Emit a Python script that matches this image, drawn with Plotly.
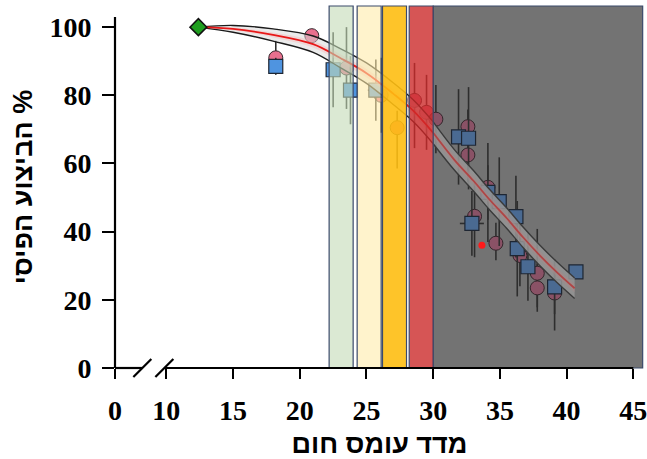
import plotly.graph_objects as go

# ---------------- data ----------------
x_tick_vals = [6.15, 10, 15, 20, 25, 30, 35, 40, 45]   # 6.15 carries the "0" label across the axis break
x_tick_text = ["0", "10", "15", "20", "25", "30", "35", "40", "45"]
y_tick_vals = [0, 20, 40, 60, 80, 100]

zone_x0 = [22.2, 24.3, 26.2, 28.2, 30.0]
zone_x1 = [24.0, 26.1, 28.0, 30.0, 45.7]

start_x = [12.4]
start_y = [100]

circ_x = [18.2, 20.9, 23.5, 26.1, 27.3, 28.6, 29.5, 30.2, 32.6, 32.6, 33.1, 34.1, 34.7, 36.5, 37.8, 37.8, 39.1]
circ_y = [91, 97.5, 88, 80, 70.5, 78.5, 75, 73, 70.8, 62.5, 44.5, 53, 36.6, 33, 27.8, 23.5, 22]
circ_eplus = [5, 2, 12, 11, 5, 11, 11, 10, 5, 8, 10, 13, 6, 9, 13, 7, 6]
circ_eminus = [2, 2, 12, 11, 12, 14, 11, 10, 5, 8, 12, 16, 5, 9, 10, 7, 11]
circ_xerr = [0, 0, 0, 0, 0, 0, 0.5, 0, 0, 0, 0, 0, 0, 0, 0, 0, 0]

sq_x = [18.2, 22.5, 23.8, 25.7, 31.9, 32.65, 32.9, 34.1, 34.95, 36.2, 36.3, 37.1, 39.1, 40.7]
sq_y = [88.5, 87.5, 81.5, 81.5, 67.8, 67.4, 42.4, 51.5, 48.8, 44.4, 35, 29.7, 23.8, 28.2]
sq_err = [2.5, 11, 10, 9, 14, 15, 9.5, 8, 13, 12, 14, 10, 8, 0]
sq_xerr = [0, 0, 0, 0.6, 0, 0, 0.9, 0, 0, 0, 0, 0, 0, 0]

dot_x = [33.65]
dot_y = [36]

fit_x = [12.4, 15, 18, 21, 23, 25, 27, 28.5, 30, 31.6, 33, 34.2, 35.5, 36.7, 38, 39.3, 40.6]
fit_y = [100, 99.5, 97.7, 95, 91, 86.5, 80.5, 75.5, 69, 61, 55, 49.5, 44, 38.5, 33, 28, 23.4]
fit_hw = [0, 1.0, 1.8, 2.4, 2.8, 3.0, 3.2, 3.2, 3.2, 3.0, 3.0, 3.0, 3.0, 3.0, 3.0, 3.0, 3.0]

# ---------------- figure ----------------
fig = go.Figure()
gray_start = zone_x0[-1]

def pick(xs, bright, muted):
    return [muted if x >= gray_start else bright for x in xs]

fig.add_trace(go.Scatter(
    x=circ_x, y=circ_y, mode="markers",
    marker=dict(symbol="circle", size=14, color=pick(circ_x, "#e8708e", "#8a5266"),
                line=dict(color="#33262b", width=1)),
    error_y=dict(type="data", symmetric=False, array=circ_eplus, arrayminus=circ_eminus,
                 color="#2e2e2e", thickness=1.6, width=0),
    error_x=dict(type="data", array=circ_xerr, color="#2e2e2e", thickness=1.6, width=0),
    hoverinfo="skip"))

fig.add_trace(go.Scatter(
    x=sq_x, y=sq_y, mode="markers",
    marker=dict(symbol="square", size=14, color=pick(sq_x, "#4f94e0", "#4a6a92"),
                line=dict(color="#1e2633", width=1.2)),
    error_y=dict(type="data", array=sq_err, color="#2e2e2e", thickness=1.6, width=0),
    error_x=dict(type="data", array=sq_xerr, color="#2e2e2e", thickness=1.6, width=0),
    hoverinfo="skip"))

fig.add_trace(go.Scatter(
    x=dot_x, y=dot_y, mode="markers",
    marker=dict(symbol="circle", size=7, color="#ff1a1a"), hoverinfo="skip"))


def add_fit(idx, edge, fill_outer, fill_inner, line_col):
    xs = [fit_x[i] for i in idx]
    ys = [fit_y[i] for i in idx]
    hw = [fit_hw[i] for i in idx]
    up = [y + h for y, h in zip(ys, hw)]
    lo = [y - h for y, h in zip(ys, hw)]
    iu = [y + 0.4 * h for y, h in zip(ys, hw)]
    il = [y - 0.4 * h for y, h in zip(ys, hw)]
    fig.add_trace(go.Scatter(x=xs, y=up, mode="lines", line=dict(color=edge, width=1.4, shape="spline"),
                             hoverinfo="skip"))
    fig.add_trace(go.Scatter(x=xs, y=lo, mode="lines", line=dict(color=edge, width=1.4, shape="spline"),
                             fill="tonexty", fillcolor=fill_outer, hoverinfo="skip"))
    fig.add_trace(go.Scatter(x=xs, y=iu, mode="lines", line=dict(width=0, shape="spline"),
                             hoverinfo="skip"))
    fig.add_trace(go.Scatter(x=xs, y=il, mode="lines", line=dict(width=0, shape="spline"),
                             fill="tonexty", fillcolor=fill_inner, hoverinfo="skip"))
    fig.add_trace(go.Scatter(x=xs, y=ys, mode="lines", line=dict(color=line_col, width=1.8, shape="spline"),
                             hoverinfo="skip"))

add_fit([i for i, x in enumerate(fit_x) if x <= gray_start],
        "#1a1a1a", "rgba(215,215,215,0.5)", "rgba(245,175,175,0.35)", "#e81818")
add_fit([i for i, x in enumerate(fit_x) if x >= gray_start],
        "#3a3a3a", "rgba(150,150,150,0.85)", "rgba(170,135,135,0.5)", "#b04444")

fig.add_trace(go.Scatter(
    x=start_x, y=start_y, mode="markers",
    marker=dict(symbol="diamond", size=13, color="#1f9e1f", line=dict(color="#111111", width=1.5)),
    hoverinfo="skip"))

# ---------------- zones & axes decorations ----------------
zone_fill = ["rgba(195,218,182,0.6)", "rgba(255,235,170,0.6)", "rgba(254,190,18,0.9)",
             "rgba(204,42,42,0.8)", "#737373"]
zone_layer = ["above", "above", "above", "above", "below"]
shapes = []
for x0, x1, fc, ly in zip(zone_x0, zone_x1, zone_fill, zone_layer):
    shapes.append(dict(type="rect", xref="x", yref="paper", x0=x0, x1=x1, y0=0, y1=1,
                       fillcolor=fc, line=dict(color="#3b4a6b", width=1.2), layer=ly))

axis_line = dict(color="black", width=2.2)
shapes.append(dict(type="line", xref="x", yref="paper", x0=6.15, x1=8.2, y0=0, y1=0,
                   line=axis_line, layer="above"))
shapes.append(dict(type="line", xref="x", yref="paper", x0=9.85, x1=45, y0=0, y1=0,
                   line=axis_line, layer="above"))
for xa in [8.2, 9.85]:
    shapes.append(dict(type="line", xref="x", xsizemode="pixel", xanchor=xa, x0=-9, x1=9,
                       yref="paper", ysizemode="pixel", yanchor=0, y0=-9, y1=9,
                       line=axis_line, layer="above"))
shapes.append(dict(type="line", xref="paper", yref="y", x0=0, x1=0, y0=0, y1=103,
                   line=axis_line, layer="above"))

tick_font = dict(family="Liberation Serif", size=28, color="black", weight="bold")
title_font = dict(family="Liberation Sans", size=27, color="black", weight="bold")

fig.update_layout(
    width=647, height=459,
    margin=dict(l=115, r=0, t=6, b=91),
    paper_bgcolor="white", plot_bgcolor="white",
    showlegend=False,
    shapes=shapes,
    xaxis=dict(range=[6.15, 45.8], tickvals=x_tick_vals, ticktext=x_tick_text,
               ticks="outside", ticklen=10, tickwidth=2, tickcolor="black",
               showline=False, showgrid=False, zeroline=False, tickfont=tick_font,
               ticklabelstandoff=7, ticklabeloverflow="allow",
               title=dict(text="מדד עומס חום", standoff=13, font=title_font)),
    yaxis=dict(range=[0, 106.2], tickvals=y_tick_vals,
               ticks="outside", ticklen=12, tickwidth=2, tickcolor="black",
               showline=False, showgrid=False, zeroline=False, tickfont=tick_font,
               ticklabelstandoff=5,
               title=dict(text="הביצוע הפיסי %", standoff=8, font=title_font)),
)

fig.write_html(
    "out.html",
    config={"displayModeBar": False},
    post_script="document.body.style.margin='0';document.body.style.overflow='hidden';",
)
